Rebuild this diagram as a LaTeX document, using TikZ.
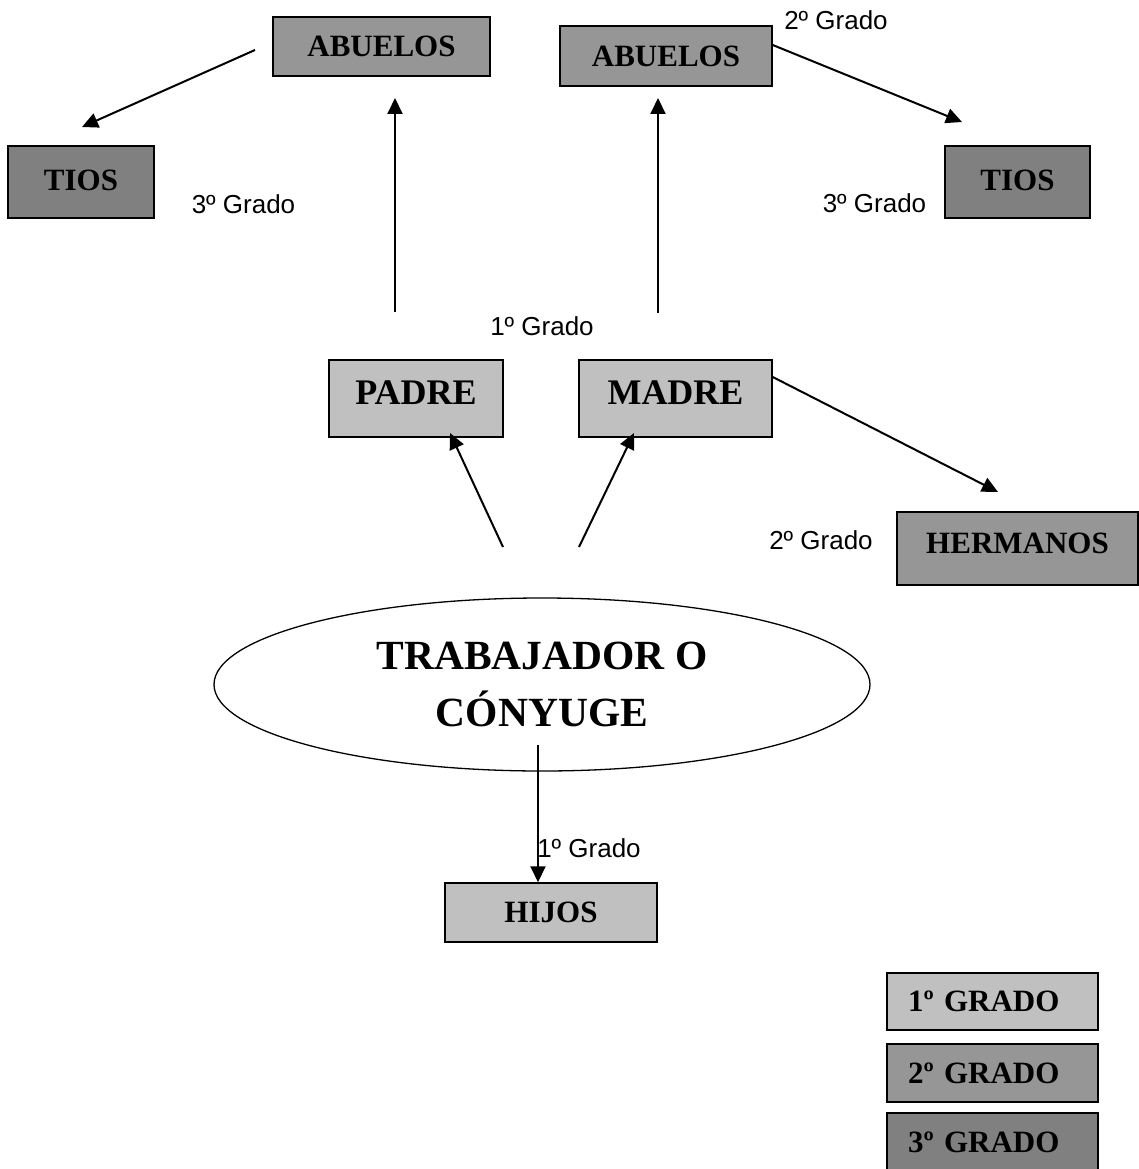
\documentclass[tikz,border=0pt]{standalone}
\usepackage{fontspec}
\setmainfont{Liberation Serif}
\newfontfamily\arialf{Liberation Sans}
\usetikzlibrary{arrows.meta,shapes.geometric,calc}
\definecolor{grLight}{HTML}{C0C0C0}
\definecolor{grMid}{HTML}{969696}
\definecolor{grDark}{HTML}{808080}
\begin{document}
\begin{tikzpicture}[x=1pt,y=-1pt,
  box/.style={draw=black,line width=1.5pt,inner sep=0pt,font=\bfseries\fontsize{31}{37}\selectfont},
  bigbox/.style={box,font=\bfseries\fontsize{36}{42}\selectfont,text depth=12pt},
  lvlA/.style={fill=grLight},
  lvlB/.style={fill=grMid},
  lvlC/.style={fill=grDark},
  legbox/.style={box,minimum width=211pt,text width=169pt,align=left},
  lbl/.style={font=\arialf\fontsize{26}{30}\selectfont,inner sep=0pt},
  arr/.style={line width=2pt,-{Triangle[length=16pt,width=15pt]}},
]
\useasboundingbox (0,0) rectangle (1139,1169);

% boxes
\node[box,lvlB,minimum width=217pt,minimum height=59pt] (abL) at (381.5,46.5) {ABUELOS};
\node[box,lvlC,minimum width=146pt,minimum height=72pt,text depth=4pt] (tiL) at (81,182) {TIOS};
\node[box,lvlB,minimum width=212pt,minimum height=60pt] (abR) at (666,56) {ABUELOS};
\node[box,lvlC,minimum width=145pt,minimum height=72pt,text depth=4pt] (tiR) at (1017.5,182) {TIOS};
\node[bigbox,lvlA,minimum width=174pt,minimum height=77pt] (padre) at (416,398.5) {PADRE};
\node[bigbox,lvlA,minimum width=193pt,minimum height=77pt] (madre) at (675.5,398.5) {MADRE};
\node[box,lvlB,minimum width=241pt,minimum height=73pt,text depth=10pt] (herm) at (1017.5,548.5) {HERMANOS};
\node[box,lvlA,minimum width=212pt,minimum height=59pt] (hijos) at (551,912.5) {HIJOS};

\node[draw=black,line width=1.3pt,ellipse,inner sep=0pt,minimum width=656pt,minimum height=173pt,
      align=center,font=\bfseries\fontsize{41.5}{57}\selectfont] (trab) at (542,684.5)
      {TRABAJADOR O\\CÓNYUGE};

% legend
\node[legbox,lvlA,minimum height=57pt] (leg1) at (992.5,1001.5) {1º GRADO};
\node[legbox,lvlB,minimum height=58pt] (leg2) at (992.5,1073) {2º GRADO};
\node[legbox,lvlC,minimum height=59pt] (leg3) at (992.5,1142.5) {3º GRADO};

% labels
\node[lbl] (g2top) at (836,20.5) {2º Grado};
\node[lbl] (g3L) at (243.5,204) {3º Grado};
\node[lbl] (g3R) at (874.5,203.5) {3º Grado};
\node[lbl] (g1mid) at (542,326) {1º Grado};
\node[lbl] (g2herm) at (821,540) {2º Grado};
\node[lbl] (g1hij) at (589,848) {1º Grado};

% free ends of connectors
\coordinate (aLs) at (255,50);
\coordinate (aLe) at (82,127);
\coordinate (vLs) at (395,312);
\coordinate (vLe) at (395,98);
\coordinate (vRs) at (658,313);
\coordinate (vRe) at (658,98);
\coordinate (aRe) at (962,122);
\coordinate (hE) at (998,492);
\coordinate (pS) at (503,547);
\coordinate (pE) at (450,433);
\coordinate (mS) at (579,547);
\coordinate (mE) at (634,433);
\coordinate (hjS) at (538,745);

% connectors
\draw[arr] (aLs) -- (aLe);
\draw[arr] (vLs) -- (vLe);
\draw[arr] (vRs) -- (vRe);
\draw[arr] ([yshift=11pt]abR.east) -- (aRe);
\draw[arr] ([yshift=21.5pt]madre.east) -- (hE);
\draw[arr] (pS) -- (pE);
\draw[arr] (mS) -- (mE);
\draw[arr] (hjS) -- ([xshift=-13pt]hijos.north);
\end{tikzpicture}
\end{document}
